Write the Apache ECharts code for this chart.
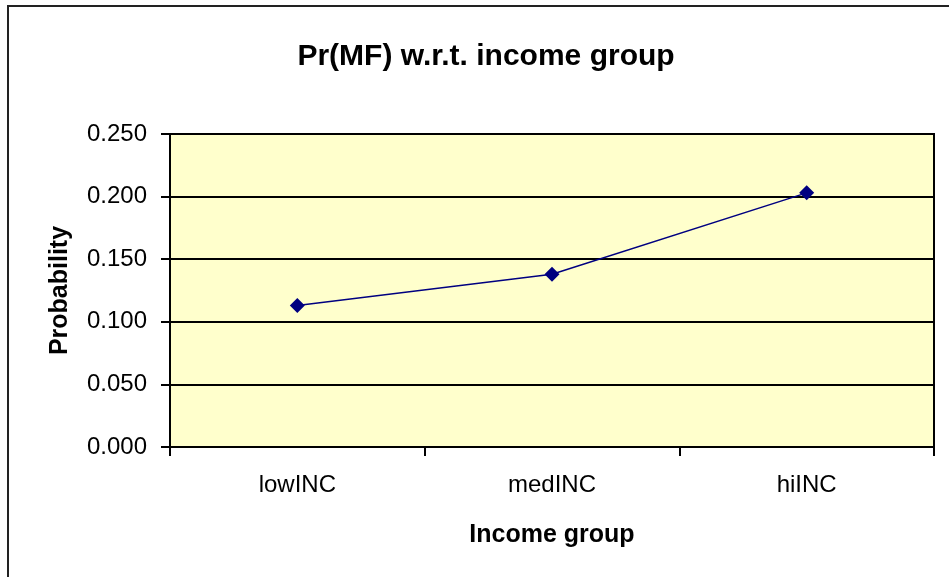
<!DOCTYPE html>
<html>
<head>
<meta charset="utf-8">
<script src="https://cdn.jsdelivr.net/npm/echarts@6/dist/echarts.min.js"></script>
<style>
html,body{margin:0;padding:0;background:#fff;}
#chart{width:949px;height:577px;}
</style>
</head>
<body>
<div id="chart"></div>
<script>
const categories = ['lowINC', 'medINC', 'hiINC'];
const probability = [0.113, 0.138, 0.203];
const yTicks = [0, 0.05, 0.1, 0.15, 0.2, 0.25];

const FONT = '"Liberation Sans", Arial, sans-serif';
const chart = echarts.init(document.getElementById('chart'), null, {renderer: 'canvas'});
chart.setOption({
  animation: false,
  backgroundColor: '#ffffff',
  graphic: [{
    type: 'rect', z: -10,
    shape: {x: 8, y: 6, width: 1200, height: 1200},
    style: {fill: 'none', stroke: '#222', lineWidth: 2}
  }],
  title: {
    text: 'Pr(MF) w.r.t. income group',
    left: 481, top: 37, textAlign: 'center',
    textStyle: {fontFamily: FONT, fontSize: 30, fontWeight: 'bold', color: '#000'}
  },
  grid: {
    left: 170, top: 134, right: 15, bottom: 130,
    show: true, backgroundColor: '#FFFFCC', borderColor: '#000', borderWidth: 2
  },
  xAxis: {
    type: 'category',
    data: categories,
    boundaryGap: true,
    name: 'Income group',
    nameLocation: 'middle',
    nameGap: 76,
    nameTextStyle: {fontFamily: FONT, fontSize: 25, fontWeight: 'bold', color: '#000'},
    axisLine: {lineStyle: {color: '#000', width: 2}},
    axisTick: {show: true, inside: false, length: 9, alignWithLabel: false, lineStyle: {color: '#000', width: 2}},
    axisLabel: {fontFamily: FONT, fontSize: 24, color: '#000', margin: 26},
    splitLine: {show: false}
  },
  yAxis: {
    type: 'value',
    min: 0, max: 0.25, interval: 0.05,
    name: 'Probability',
    nameLocation: 'middle',
    nameGap: 97,
    nameRotate: 90,
    nameTextStyle: {fontFamily: FONT, fontSize: 25, fontWeight: 'bold', color: '#000'},
    axisLine: {show: true, lineStyle: {color: '#000', width: 2}},
    axisTick: {show: true, inside: false, length: 9, lineStyle: {color: '#000', width: 2}},
    axisLabel: {
      fontFamily: FONT, fontSize: 24, color: '#000', margin: 23,
      formatter: v => v.toFixed(3)
    },
    splitLine: {show: true, lineStyle: {color: '#000', width: 2}}
  },
  series: [{
    type: 'line',
    data: probability,
    symbol: 'diamond',
    symbolSize: 15,
    lineStyle: {color: '#000080', width: 1.5},
    itemStyle: {color: '#000080'}
  }]
});
</script>
</body>
</html>
